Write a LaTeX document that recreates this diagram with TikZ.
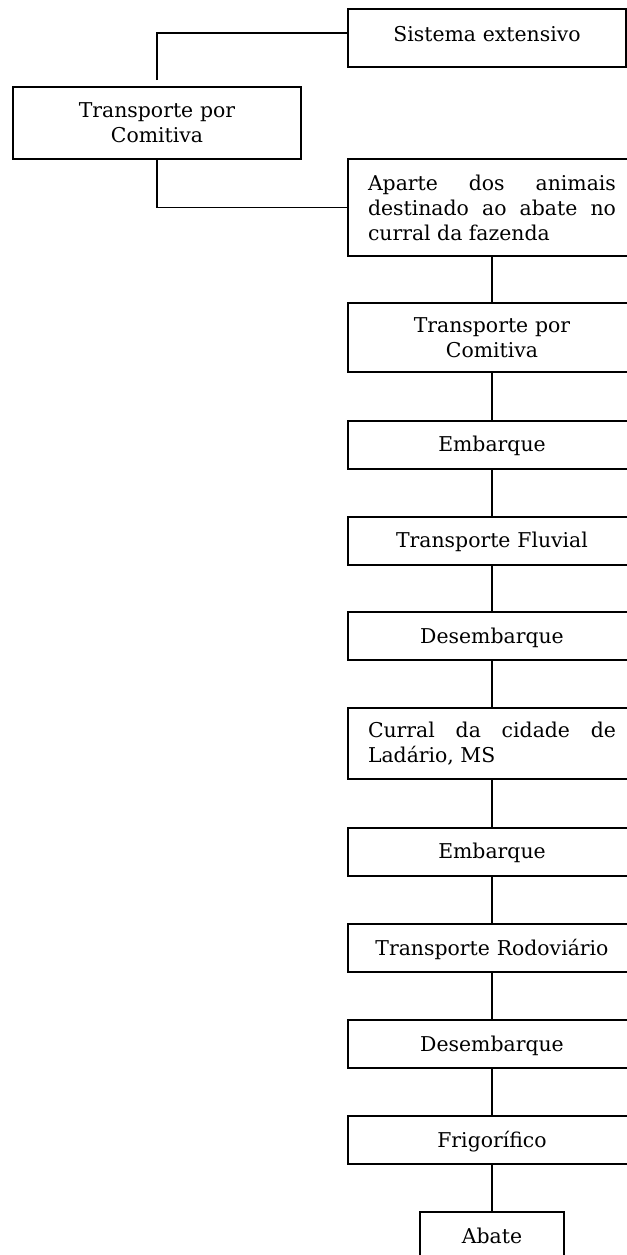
\documentclass[tikz,border=0pt]{standalone}
\usepackage{fontspec}
\setmainfont{DejaVu Serif}
\usetikzlibrary{calc}

\tikzset{
  caixa/.style={draw, line width=1pt, minimum width=144pt, text width=124pt, inner xsep=10pt, inner ysep=0pt, align=center},
  umalinha/.style={caixa, minimum height=24pt, text height=7.5pt, text depth=0.5pt},
  justa/.style={caixa, align=justify},
  liga/.style={line width=0.75pt}
}

\begin{document}
\begin{tikzpicture}[x=0.5pt, y=-0.5pt]\fontsize{10.2pt}{12.5pt}\selectfont
\useasboundingbox (0,0) rectangle (627,1255);
\clip (0,0) rectangle (627,1255);
% topo
\node[umalinha, minimum width=139pt, text width=119pt, minimum height=29pt, text depth=4.5pt] (sis) at (487,38) {Sistema extensivo};
\node[caixa, minimum height=36pt] (tpc1) at (157,123) {Transporte por\\ Comitiva};
\node[justa, minimum height=48.5pt] (apa) at (492,207.5) {Aparte dos animais\linebreak destinado ao abate no\linebreak curral da fazenda};
% coluna
\node[caixa, minimum height=34.5pt] (tpc2) at (492,337.5) {Transporte por\\ Comitiva};
\node[umalinha] (emb1) at (492,444.5) {Embarque};
\node[umalinha] (flu) at (492,540.5) {Transporte Fluvial};
\node[umalinha] (des1) at (492,636) {Desembarque};
\node[justa, minimum height=35.5pt] (cur) at (492,743.5) {Curral da cidade de\linebreak Ladário, MS};
\node[umalinha] (emb2) at (492,851.5) {Embarque};
\node[umalinha] (rod) at (492,948) {Transporte Rodoviário};
\node[umalinha] (des2) at (492,1044) {Desembarque};
\node[umalinha] (fri) at (492,1140) {Frigorífico};
\node[umalinha, minimum width=72pt, text width=60pt, inner xsep=6pt] (aba) at (492,1236) {Abate};
% ligacoes
\draw[liga, shorten <=3pt] (tpc1.north) |- ([yshift=2.5pt]sis.west);
\draw[liga] (tpc1.south) |- (apa.west);
\foreach \a/\b in {apa/tpc2, tpc2/emb1, emb1/flu, flu/des1, des1/cur, cur/emb2, emb2/rod, rod/des2, des2/fri, fri/aba}
  \draw[liga] (\a.south) -- (\b.north);
\end{tikzpicture}
\end{document}
